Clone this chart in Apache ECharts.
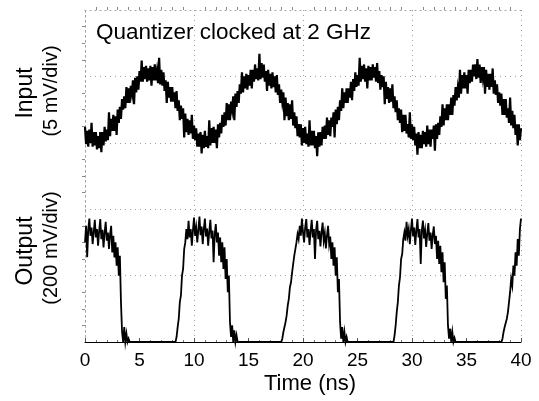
<!DOCTYPE html>
<html>
<head>
<meta charset="utf-8">
<script src="https://cdn.jsdelivr.net/npm/echarts@6/dist/echarts.min.js"></script>
<style>html,body{margin:0;padding:0;background:#fff}#c{width:539px;height:401px}</style>
</head>
<body>
<div id="c"></div>
<script>
// ---- data ----
const titleText = 'Quantizer clocked at 2 GHz';
const xAxisTitle = 'Time (ns)';
const inputLabel = ['Input', '(5 mV/div)'];
const outputLabel = ['Output', '(200 mV/div)'];
const timeStepNs = 0.1;            // sampling step of both traces
const xTickValues = [0, 5, 10, 15, 20, 25, 30, 35, 40];

// Input trace, mV (5 mV/div), one sample every 0.1 ns from 0 to 40 ns
const inputMv = [
 1.2,-0.1,0.9,-0.3,1.0,0.0,1.5,-0.3,0.8,-0.2,
 0.8,-0.5,0.5,-0.4,0.8,-0.7,0.8,-0.2,1.2,0.1,
 1.0,0.2,2.3,0.5,1.8,0.9,2.1,0.9,2.0,0.6,
 2.5,1.5,2.7,1.8,3.3,2.5,3.5,2.6,4.2,3.0,
 4.1,3.0,4.3,3.7,4.7,2.9,4.9,3.8,5.0,4.0,
 5.4,4.6,6.2,4.6,5.7,4.8,5.8,4.6,5.6,4.7,
 5.8,4.3,5.7,4.7,5.9,4.7,5.4,4.5,6.4,4.4,
 5.5,4.3,5.3,3.9,4.7,3.0,4.6,3.4,4.2,3.1,
 4.2,3.1,3.8,2.6,3.9,2.4,3.2,1.7,2.8,1.8,
 2.6,0.4,2.2,0.8,1.8,0.6,1.7,0.7,2.1,0.3,
 1.3,0.2,1.1,-0.3,0.7,-0.3,0.8,-0.8,0.6,-0.4,
 0.9,-0.3,0.5,-0.4,1.7,-0.2,1.1,0.0,1.2,0.0,
 1.0,-0.4,1.4,0.4,1.5,0.7,2.1,1.2,2.3,1.3,
 3.0,1.7,2.9,1.7,3.1,2.5,3.5,1.7,3.7,2.7,
 3.9,3.0,4.4,3.7,5.3,3.8,5.0,4.1,5.2,4.0,
 5.1,4.3,5.5,4.1,5.5,4.6,5.9,4.8,5.6,4.7,
 6.7,4.8,6.0,4.9,5.9,4.6,5.4,3.9,5.5,4.3,
 5.2,4.1,5.3,4.2,5.0,3.8,5.1,3.6,4.4,3.0,
 4.0,3.1,3.8,1.7,3.4,2.0,3.0,1.7,2.9,1.8,
 3.2,1.3,2.3,1.1,2.0,0.5,1.4,0.4,1.4,-0.2,
 1.1,0.0,1.2,-0.1,0.7,-0.3,1.7,-0.2,0.9,-0.2,
 0.9,-0.4,0.5,-1.0,0.8,-0.3,0.8,-0.2,1.2,0.3,
 1.3,0.3,1.9,0.6,1.7,0.5,1.9,1.2,2.3,0.4,
 2.5,1.4,2.7,1.7,3.2,2.4,4.1,2.6,3.8,3.0,
 4.1,3.0,4.1,3.4,4.6,3.2,4.8,3.9,5.3,4.2,
 5.1,4.3,6.4,4.6,5.8,4.8,5.9,4.6,5.6,4.1,
 5.8,4.7,5.7,4.7,5.9,4.9,5.7,4.6,6.0,4.5,
 5.4,4.0,5.1,4.2,5.0,2.9,4.6,3.3,4.2,3.0,
 4.1,3.1,4.4,2.6,3.5,2.3,3.2,1.7,2.6,1.5,
 2.5,0.8,2.1,0.9,2.1,0.7,1.4,0.4,2.3,0.3,
 1.4,0.2,1.2,-0.2,0.7,-0.9,0.8,-0.4,0.6,-0.4,
 0.9,-0.1,0.8,-0.3,1.3,-0.1,1.0,-0.3,1.0,0.3,
 1.3,-0.6,1.4,0.3,1.5,0.6,2.0,1.2,2.9,1.3,
 2.6,1.7,2.9,1.7,2.9,2.1,3.4,2.1,3.6,2.8,
 4.2,3.2,4.1,3.4,5.5,3.7,5.1,4.1,5.3,4.1,
 5.1,3.7,5.5,4.5,5.5,4.6,5.9,5.0,5.9,4.8,
 6.3,4.9,5.9,4.5,5.7,4.9,5.7,3.7,5.5,4.2,
 5.2,4.0,5.2,4.2,5.6,3.7,4.7,3.6,4.4,3.0,
 3.8,2.8,3.7,2.1,3.3,2.1,3.3,1.9,2.6,1.5,
 3.4,1.3,2.4,1.1,2.1,0.6,1.4,-0.2,1.4,0.2,
 1.1
];

// Output trace, mV (200 mV/div), one sample every 0.1 ns from 0 to 40 ns
const outputMv = [
 300,350,255,340,372,320,345,295,330,368,
 315,340,290,335,370,310,338,285,330,362,
 305,330,280,325,350,270,320,255,300,230,
 285,200,260,120,30,0,45,0,25,0,
 10,0,0,0,0,0,0,0,0,0,
 0,0,0,0,0,0,0,0,0,0,
 0,0,0,0,0,0,0,0,0,0,
 0,0,0,0,0,0,0,0,0,0,
 0,0,0,0,15,45,70,120,140,200,
 220,280,300,340,310,365,315,340,290,335,
 375,320,345,300,338,378,322,348,295,340,
 372,318,342,290,332,368,312,336,240,325,
 355,300,330,260,315,240,300,220,285,190,
 250,150,200,60,15,50,0,35,0,20,
 0,0,0,0,0,0,0,0,0,0,
 0,0,0,0,0,0,0,0,0,0,
 0,0,0,0,0,0,0,0,0,0,
 0,0,0,0,0,0,0,0,0,0,
 0,10,30,25,60,80,110,130,165,180,
 210,235,260,280,300,325,310,350,320,372,
 330,300,345,370,315,340,292,335,368,315,
 340,250,338,365,310,335,288,330,360,305,
 328,282,320,350,295,318,250,300,230,285,
 200,255,150,190,60,10,45,0,30,0,
 15,0,0,0,0,0,0,0,0,0,
 0,0,0,0,0,0,0,0,0,0,
 0,0,0,0,0,0,0,0,0,0,
 0,0,0,0,0,0,0,0,0,0,
 0,0,0,0,20,50,90,120,170,195,
 250,265,310,330,305,362,320,340,295,338,
 372,318,345,292,336,370,315,340,235,335,
 366,312,336,286,328,358,305,330,280,322,
 348,295,320,250,305,235,290,210,270,180,
 240,130,170,50,10,40,0,30,0,12,
 0,0,0,0,0,0,0,0,0,0,
 0,0,0,0,0,0,0,0,0,0,
 0,0,0,0,0,0,0,0,0,0,
 0,0,0,0,0,0,0,0,0,0,
 0,0,0,10,30,45,50,70,90,120,
 150,190,170,230,200,270,230,310,260,340,
 372
];

// ---- chart ----
const toPairs = arr => arr.map((v, i) => [Math.round(i * timeStepNs * 10) / 10, v]);
const FONT = '"Liberation Sans", Arial, Helvetica, sans-serif';
const dotted = { color: '#a0a0a0', width: 1, type: [1, 4] };

const chart = echarts.init(document.getElementById('c'), null, { renderer: 'canvas' });
chart.setOption({
  animation: false,
  backgroundColor: '#fff',
  title: {
    text: titleText, left: 96, top: 21, padding: 0,
    textStyle: { fontFamily: FONT, fontSize: 22.5, fontWeight: 'normal', color: '#000' }
  },
  grid: { left: 85, right: 18, top: 10, bottom: 59, containLabel: false },
  xAxis: [
    {
      type: 'value', min: 0, max: 40, interval: 5, position: 'bottom',
      axisLine: { show: true, onZero: false, lineStyle: { color: '#000', width: 1 } },
      axisTick: { show: true, inside: true, length: 4, lineStyle: { color: '#555' } },
      minorTick: { show: true, splitNumber: 5, length: 2, lineStyle: { color: '#777' } },
      splitLine: { show: false },
      axisLabel: {
        margin: 9, fontFamily: FONT, fontSize: 19, color: '#000',
        formatter: v => (xTickValues.indexOf(v) >= 0 ? String(v) : '')
      }
    },
    {
      type: 'value', min: 0, max: 40, interval: 10, position: 'top',
      axisLine: { show: true, onZero: false, lineStyle: dotted },
      axisTick: { show: false },
      minorTick: { show: true, splitNumber: 10, length: 3, lineStyle: { color: '#888' } },
      splitLine: { show: true, lineStyle: dotted },
      axisLabel: { show: false }
    }
  ],
  yAxis: [
    {
      type: 'value', min: -15, max: 10, interval: 5, position: 'left',
      axisLine: { show: true, lineStyle: dotted },
      axisTick: { show: false },
      minorTick: { show: true, splitNumber: 4, length: 3, lineStyle: { color: '#888' } },
      splitLine: { show: true, lineStyle: dotted },
      axisLabel: { show: false }
    },
    {
      type: 'value', min: 0, max: 1000, interval: 200, position: 'right',
      axisLine: { show: true, lineStyle: dotted },
      axisTick: { show: false },
      splitLine: { show: false },
      axisLabel: { show: false }
    }
  ],
  graphic: [
    { type: 'text', x: 25.5, y: 93, rotation: Math.PI / 2,
      style: { text: inputLabel[0], font: '23px ' + FONT, fill: '#000', align: 'center', verticalAlign: 'middle' } },
    { type: 'text', x: 51, y: 91, rotation: Math.PI / 2,
      style: { text: inputLabel[1], font: '20px ' + FONT, fill: '#000', align: 'center', verticalAlign: 'middle' } },
    { type: 'text', x: 26, y: 251, rotation: Math.PI / 2,
      style: { text: outputLabel[0], font: '23px ' + FONT, fill: '#000', align: 'center', verticalAlign: 'middle' } },
    { type: 'text', x: 51, y: 248, rotation: Math.PI / 2,
      style: { text: outputLabel[1], font: '20px ' + FONT, fill: '#000', align: 'center', verticalAlign: 'middle' } },
    { type: 'text', x: 310, y: 384,
      style: { text: xAxisTitle, font: '22px ' + FONT, fill: '#000', align: 'center', verticalAlign: 'middle' } }
  ],
  series: [
    {
      name: 'Input', type: 'line', xAxisIndex: 0, yAxisIndex: 0,
      data: toPairs(inputMv), showSymbol: false, symbol: 'none', clip: false,
      sampling: null, lineStyle: { color: '#000', width: 2.2, join: 'miter' }, z: 3
    },
    {
      name: 'Output', type: 'line', xAxisIndex: 0, yAxisIndex: 1,
      data: toPairs(outputMv), showSymbol: false, symbol: 'none', clip: false,
      sampling: null, lineStyle: { color: '#000', width: 1.8, join: 'miter' }, z: 3
    }
  ]
});
</script>
</body>
</html>
